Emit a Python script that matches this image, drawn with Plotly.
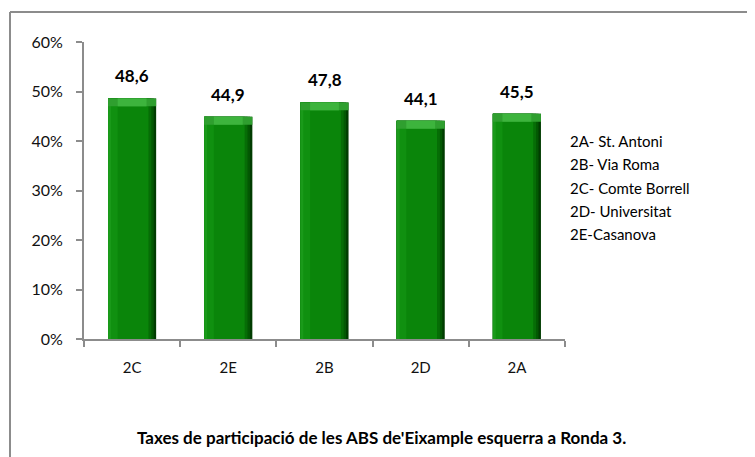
import plotly.graph_objects as go

categories = ["2C", "2E", "2B", "2D", "2A"]
values = [48.6, 44.9, 47.8, 44.1, 45.5]          # percent
value_labels = ["48,6", "44,9", "47,8", "44,1", "45,5"]
y_ticks = [0, 0.1, 0.2, 0.3, 0.4, 0.5, 0.6]
y_tick_labels = ["0%", "10%", "20%", "30%", "40%", "50%", "60%"]
key_lines = ["2A- St. Antoni", "2B- Via Roma", "2C- Comte Borrell",
             "2D- Universitat", "2E-Casanova"]
title_text = "<b>Taxes de participació de les ABS de'Eixample esquerra a Ronda 3.</b>"

frac = [v / 100 for v in values]
FONT = "Lato, 'Open Sans', sans-serif"

# page body has an 8px margin; figure is sized/positioned to compensate
PX_L, PX_T = 84, 42
PX_R, PX_B = 565, 339
W, H = 747, 449
PW, PH = PX_R - PX_L, PX_B - PX_T

def px(x):
    return (x - PX_L) / PW

def py(y):
    return (PX_B - y) / PH

fig = go.Figure()
# shaded layers, from the dark right edge inwards (bevel look)
layers = [(0.50, "#013c01"), (0.475, "#035803"), (0.45, "#066d06"),
          (0.42, "#0a850a"), (0.10, "#109010"), (0.03, "#1a9a1a")]
for wdt, col in layers:
    fig.add_trace(go.Bar(x=categories, y=frac, width=wdt, offset=-0.25,
                         marker=dict(color=col, line=dict(width=0)),
                         hoverinfo="skip", showlegend=False))
bevel = 0.016
fig.add_trace(go.Bar(x=categories, y=[bevel] * len(frac), base=[f - bevel for f in frac],
                     width=0.5, offset=-0.25,
                     marker=dict(color="#2f9f2f", line=dict(width=0)),
                     hoverinfo="skip", showlegend=False))
fig.add_trace(go.Bar(x=categories, y=[bevel] * len(frac), base=[f - bevel for f in frac],
                     width=0.3, offset=-0.15,
                     marker=dict(color="#3db43d", line=dict(width=0)),
                     hoverinfo="skip", showlegend=False))

for c, f, t in zip(categories, frac, value_labels):
    fig.add_annotation(x=c, y=f, text="<b>" + t + "</b>", showarrow=False,
                       yanchor="bottom", yshift=10,
                       font=dict(family=FONT, size=17, color="#000000"))

for i, line in enumerate(key_lines):
    fig.add_annotation(xref="paper", yref="paper",
                       x=px(568), y=py(141 + 23.3 * i),
                       text=line, showarrow=False, xanchor="left", yanchor="middle",
                       font=dict(family=FONT, size=15, color="#000000"))

fig.add_annotation(xref="paper", yref="paper", x=px(381), y=py(437),
                   text=title_text, showarrow=False, xanchor="center", yanchor="middle",
                   font=dict(family=FONT, size=17, color="#000000"))

fig.add_shape(type="line", xref="paper", yref="paper",
              x0=px(10), x1=px(770), y0=py(12), y1=py(12),
              line=dict(color="#8c8c8c", width=2))
fig.add_shape(type="line", xref="paper", yref="paper",
              x0=px(10), x1=px(10), y0=py(12), y1=py(470),
              line=dict(color="#8c8c8c", width=2))

fig.update_layout(
    width=W, height=H,
    margin=dict(l=PX_L - 8, r=W - (PX_R - 8), t=PX_T - 8, b=H - (PX_B - 8)),
    paper_bgcolor="white", plot_bgcolor="white",
    barmode="overlay",
    font=dict(family=FONT, size=15, color="#000000"),
    showlegend=False,
)
fig.update_yaxes(range=[0, 0.6], tickvals=y_ticks, ticktext=y_tick_labels,
                 showgrid=False, zeroline=False, showline=True, linecolor="#8c8c8c",
                 linewidth=2, ticks="outside", ticklen=6, tickcolor="#8c8c8c",
                 tickwidth=1.5, ticklabelstandoff=10,
                 tickfont=dict(family=FONT, size=16, color="#111111"))
fig.update_xaxes(type="category", showgrid=False, zeroline=False, showline=True,
                 linecolor="#8c8c8c", linewidth=2, ticks="outside", ticklen=6,
                 tickcolor="#8c8c8c", tickwidth=1.5, tickson="boundaries",
                 ticklabelstandoff=14, range=[-0.5, 4.5],
                 tickfont=dict(family=FONT, size=15, color="#111111"))

fig.write_html("out.html")
